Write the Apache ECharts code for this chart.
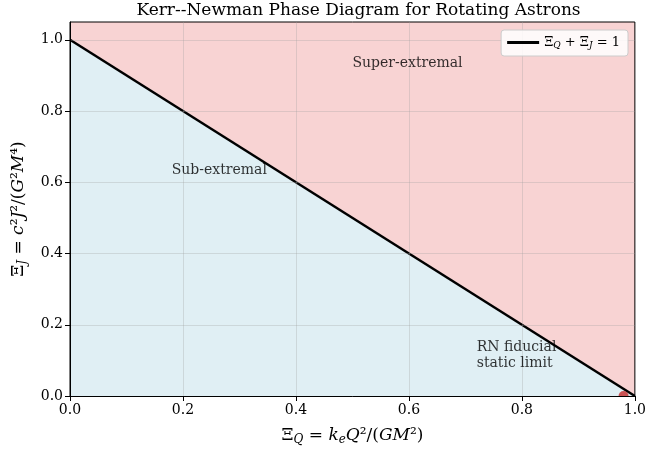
<!DOCTYPE html>
<html><head><meta charset="utf-8">
<script src="https://cdn.jsdelivr.net/npm/echarts@6/dist/echarts.min.js"></script>
<style>html,body{margin:0;padding:0;background:#fff}#c{width:649px;height:451px}</style>
</head><body><div id="c"></div>
<script>
const boundaryX = [0, 1];
const boundaryY = [1, 0];
const rnPoint = [0.98, 0];
const xTicks = [0, 0.2, 0.4, 0.6, 0.8, 1.0];
const yTicks = [0, 0.2, 0.4, 0.6, 0.8, 1.0];
const annotations = [
  {x: 0.5, y: 0.933, text: 'Super-extremal'},
  {x: 0.18, y: 0.633, text: 'Sub-extremal'},
  {x: 0.72, y: 0.115, text: 'RN fiducial\nstatic limit'}
];
const FONT = 'DejaVu Serif';
const chart = echarts.init(document.getElementById('c'));
const sub = {fontFamily: FONT, fontSize: 12, fontStyle: 'italic', color: '#000', padding: [8, 0, 0, 0]};
const it = {fontFamily: FONT, fontSize: 17, fontStyle: 'italic', color: '#000'};
const rm = {fontFamily: FONT, fontSize: 17, color: '#000'};
chart.setOption({
  animation: false,
  title: {text: 'Kerr--Newman Phase Diagram for Rotating Astrons', left: 353.5, textAlign: 'center', top: -3,
    textStyle: {fontFamily: FONT, fontSize: 17, fontWeight: 'normal', color: '#000'}},
  grid: {left: 70, right: 12, top: 22, bottom: 53, show: true, backgroundColor: '#f8d3d3', borderColor: '#000', borderWidth: 1},
  legend: {right: 21, top: 30, padding: [6, 8, 6, 6], backgroundColor: 'rgba(255,255,255,0.85)', borderColor: '#ccc', borderWidth: 1, borderRadius: 3,
    itemWidth: 32, itemHeight: 3, icon: 'rect', itemGap: 8,
    data: [{name: 'boundary'}],
    formatter: () => '{r|Ξ}{s|Q}{r| + Ξ}{s|J}{r| = 1}',
    textStyle: {rich: {r: {fontFamily: FONT, fontSize: 13, color: '#000'}, s: {fontFamily: FONT, fontSize: 9, fontStyle: 'italic', color: '#000', padding: [6, 0, 0, 0]}}}},
  xAxis: {type: 'value', min: 0, max: 1, interval: 0.2, z: 3,
    name: '{r|Ξ}{s|Q}{r| = }{i|k}{s|e}{i|Q}{r|²/(}{i|GM}{r|²)}', nameLocation: 'middle', nameGap: 30,
    nameTextStyle: {color: '#000', rich: {r: rm, i: it, s: sub}},
    axisLine: {lineStyle: {color: '#000', width: 1}},
    axisTick: {show: true, length: 5, lineStyle: {color: '#000'}},
    axisLabel: {fontFamily: FONT, fontSize: 14, color: '#000', margin: 7, formatter: v => v.toFixed(1)},
    splitLine: {show: true, lineStyle: {color: 'rgba(160,160,160,0.3)', width: 1}}},
  yAxis: {type: 'value', min: 0, max: 1.05, z: 3,
    name: '{r|Ξ}{s|J}{r| = }{i|c}{r|²}{i|J}{r|²/(}{i|G}{r|²}{i|M}{r|⁴)}', nameLocation: 'middle', nameGap: 41, nameRotate: 90,
    nameTextStyle: {color: '#000', rich: {r: rm, i: it, s: sub}},
    axisLine: {lineStyle: {color: '#000', width: 1}},
    axisTick: {show: true, length: 5, lineStyle: {color: '#000'}, customValues: yTicks},
    axisLabel: {fontFamily: FONT, fontSize: 14, color: '#000', margin: 7, customValues: yTicks, formatter: v => v.toFixed(1)},
    splitLine: {show: true, lineStyle: {color: 'rgba(160,160,160,0.3)', width: 1}, customValues: yTicks}},
  series: [
    {name: 'boundary', type: 'line', data: boundaryX.map((x, i) => [x, boundaryY[i]]), symbol: 'none',
      lineStyle: {color: '#000', width: 2.5}, itemStyle: {color: '#000'},
      areaStyle: {color: '#e0eff4', opacity: 1}, z: 2},
    {name: 'rn', type: 'scatter', data: [rnPoint], symbol: 'path://M0,10 A10,10 0 0 1 20,10 Z', symbolSize: [10, 5], symbolOffset: [0, -2.5],
      itemStyle: {color: '#c32a2a'}, z: 4},
    {name: 'ann', type: 'scatter', symbolSize: 0, z: 5,
      data: annotations.map(a => ({value: [a.x, a.y], label: {formatter: a.text}})),
      label: {show: true, position: 'right', distance: 0, align: 'left', fontFamily: FONT, fontSize: 14, color: '#000', lineHeight: 16}}
  ]
});
</script></body></html>
